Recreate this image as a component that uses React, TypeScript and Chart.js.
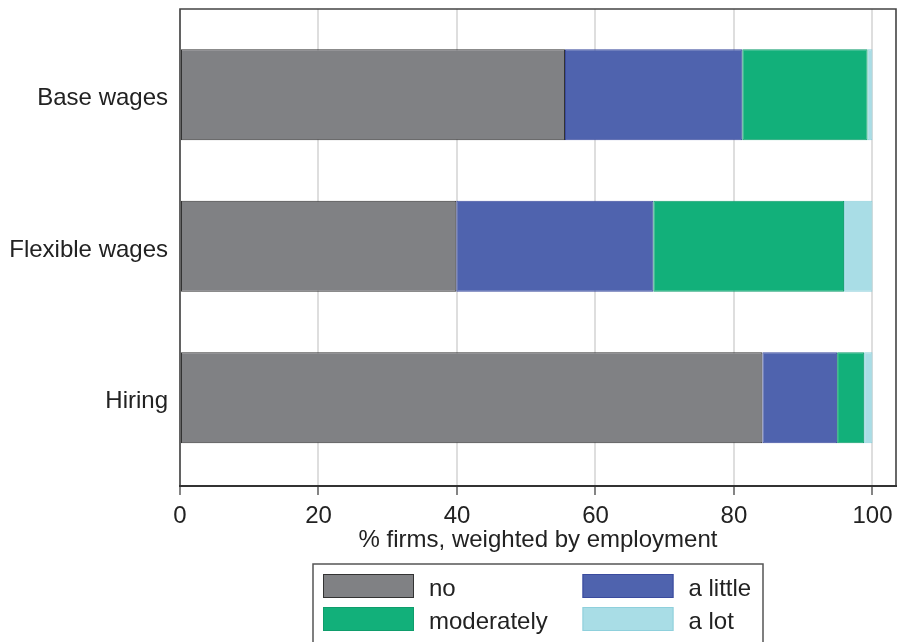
import { useEffect, useRef } from 'react';
import { Chart, registerables } from 'chart.js';

Chart.register(...registerables);

const categories = ['Base wages', 'Flexible wages', 'Hiring'];
const seriesNames = ['no', 'a little', 'moderately', 'a lot'];
const noValues = [55.6, 39.9, 84.1];
const aLittleValues = [25.6, 28.45, 10.8];
const moderatelyValues = [18.1, 27.55, 3.9];
const aLotValues = [0.7, 4.1, 1.2];
const xTickValues = [0, 20, 40, 60, 80, 100];
const axisTitle = '% firms, weighted by employment';

const fillColors = ['#808184', '#4f63ae', '#12b07a', '#a9dde6'];
const edgeColors = ['#333333', '#3b4b9e', '#0f9d6c', '#8fd0dc'];
const legendOrder = [0, 1, 2, 3];

const FONT = "'Liberation Sans', Arial, Helvetica, sans-serif";
const TEXT = '#222222';

const framePlugin = {
  id: 'frame',
  afterDatasetsDraw(chart: any) {
    const { ctx, chartArea: a } = chart;
    ctx.save();
    ctx.strokeStyle = '#444444';
    ctx.lineWidth = 1.6;
    ctx.beginPath();
    ctx.moveTo(a.left, a.bottom);
    ctx.lineTo(a.left, a.top);
    ctx.lineTo(a.right, a.top);
    ctx.lineTo(a.right, a.bottom);
    ctx.stroke();
    ctx.strokeStyle = '#333333';
    ctx.lineWidth = 2;
    ctx.beginPath();
    ctx.moveTo(a.left - 1, a.bottom);
    ctx.lineTo(a.right + 1, a.bottom);
    ctx.stroke();
    ctx.restore();
  },
};

const legendPlugin = {
  id: 'boxLegend',
  afterDraw(chart: any) {
    const { ctx } = chart;
    const ds = chart.data.datasets;
    const boxLeft = 313;
    const boxTop = 564;
    const boxW = 450;
    ctx.save();
    ctx.strokeStyle = '#555555';
    ctx.lineWidth = 1.5;
    ctx.strokeRect(boxLeft, boxTop, boxW, 120);
    ctx.font = `24px ${FONT}`;
    ctx.textBaseline = 'middle';
    ctx.textAlign = 'left';
    legendOrder.forEach((di, k) => {
      const col = k % 2;
      const row = Math.floor(k / 2);
      const sx = boxLeft + 10 + col * 259.5;
      const sy = boxTop + 10 + row * 33;
      ctx.fillStyle = ds[di].backgroundColor;
      ctx.fillRect(sx, sy, 91, 24);
      ctx.strokeStyle = ds[di].borderColor;
      ctx.lineWidth = 1;
      ctx.strokeRect(sx + 0.5, sy + 0.5, 90, 23);
      ctx.fillStyle = TEXT;
      ctx.fillText(ds[di].label, sx + 106, sy + 15.5);
    });
    ctx.restore();
  },
};

export default function App() {
  const canvasRef = useRef<HTMLCanvasElement | null>(null);

  useEffect(() => {
    document.body.style.margin = '0';
    const canvas = canvasRef.current;
    if (!canvas) return;
    const seriesValues = [noValues, aLittleValues, moderatelyValues, aLotValues];
    const chart = new Chart(canvas, {
      type: 'bar',
      data: {
        datasets: seriesValues.map((vals, si) => ({
          label: seriesNames[si],
          data: vals.map((v, i) => ({ x: v, y: i })),
          backgroundColor: fillColors[si],
          borderColor: edgeColors[si],
          borderWidth: 1,
          borderSkipped: false,
          barPercentage: 0.6,
          categoryPercentage: 1,
        })),
      },
      options: {
        indexAxis: 'y',
        responsive: false,
        animation: false,
        layout: { padding: { top: 9, right: 2, bottom: 87, left: 0 } },
        plugins: { legend: { display: false }, tooltip: { enabled: false } },
        scales: {
          x: {
            type: 'linear',
            stacked: true,
            position: 'bottom',
            min: 0,
            max: 103.4,
            offset: false,
            afterBuildTicks: (s: any) => {
              s.ticks = xTickValues.map((v) => ({ value: v }));
            },
            afterFit: (s: any) => {
              s.height = 69;
              s.paddingLeft = 0;
              s.paddingRight = 0;
            },
            grid: {
              color: '#dedede',
              lineWidth: 2,
              drawTicks: true,
              tickLength: 9,
              tickColor: '#333333',
              tickWidth: 1.2,
              offset: false,
            },
            border: { display: false },
            ticks: {
              color: TEXT,
              font: { family: FONT, size: 24 },
              padding: 7,
              maxRotation: 0,
              autoSkip: false,
            },
            title: {
              display: true,
              text: axisTitle,
              color: TEXT,
              font: { family: FONT, size: 24 },
              padding: 0,
            },
          },
          y: {
            type: 'linear',
            stacked: true,
            reverse: true,
            min: -0.566,
            max: 2.583,
            offset: false,
            afterBuildTicks: (s: any) => {
              s.ticks = categories.map((_, i) => ({ value: i }));
            },
            afterFit: (s: any) => {
              s.width = 180;
              s.paddingTop = 0;
              s.paddingBottom = 0;
            },
            grid: { display: false, drawTicks: false, offset: false },
            border: { display: false },
            ticks: {
              color: TEXT,
              font: { family: FONT, size: 24 },
              padding: 12,
              labelOffset: 4,
              autoSkip: false,
              callback: (v: any) => categories[v as number] ?? '',
            },
          },
        },
      } as any,
      plugins: [framePlugin, legendPlugin],
    });
    return () => chart.destroy();
  }, []);

  return (
    <div style={{ width: 898, height: 642, overflow: 'hidden' }}>
      <canvas ref={canvasRef} width={898} height={642} style={{ display: 'block' }} />
    </div>
  );
}
